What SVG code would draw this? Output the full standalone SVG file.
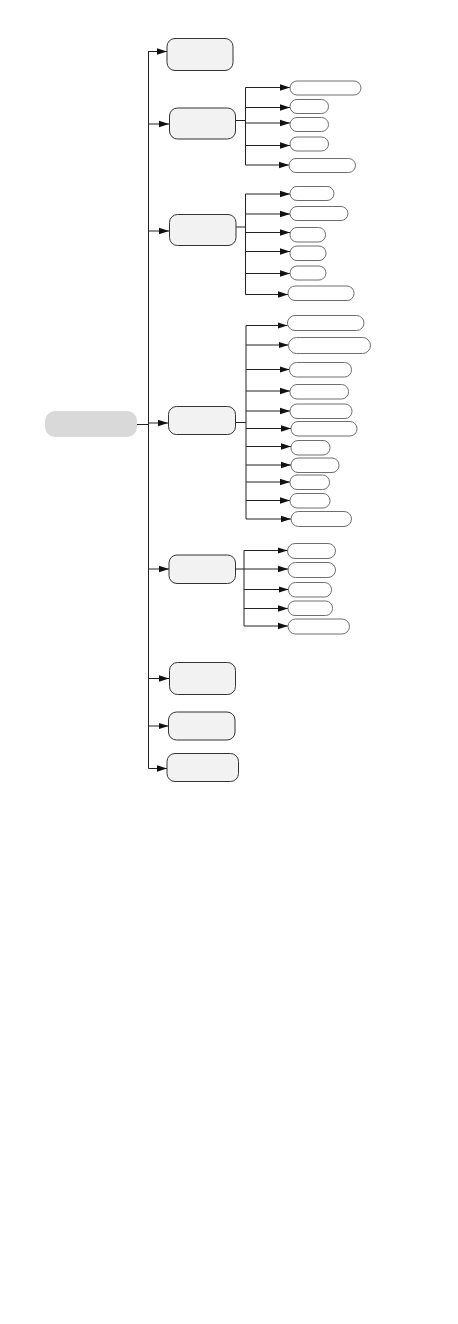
<svg xmlns="http://www.w3.org/2000/svg" width="458" height="1324" viewBox="0 0 458 1324">
<style>
.bg{fill:#ffffff}
.root{fill:#d9d9d9;stroke:none}
.main{fill:#f2f2f2;stroke:#333333;stroke-width:1}
.leaf{fill:#ffffff;stroke:#6e6e6e;stroke-width:1}
.ln{fill:none;stroke:#222222;stroke-width:1}
.ar{fill:none;stroke:#222222;stroke-width:1;marker-end:url(#ah)}
</style>
<defs>
<marker id="ah" markerUnits="userSpaceOnUse" markerWidth="10" markerHeight="8" refX="10" refY="4" orient="auto">
<path d="M0,0.8 L10,4 L0,7.2 Z" fill="#111111"/>
</marker>
</defs>
<rect class="bg" x="0" y="0" width="458" height="1324"/>
<g id="connectors">
<path class="ln" d="M137,424.5 H148.5 M148.5,51 V768.5"/>
<path class="ar" d="M148.5,51.5 H167"/>
<path class="ar" d="M148.5,124 H169"/>
<path class="ar" d="M148.5,231 H169"/>
<path class="ar" d="M148.5,423 H168"/>
<path class="ar" d="M148.5,569 H169"/>
<path class="ar" d="M148.5,678.5 H169"/>
<path class="ar" d="M148.5,726 H168.5"/>
<path class="ar" d="M148.5,768.5 H167"/>
<!-- group 2 -->
<path class="ln" d="M236,120.5 H245.5 M245.5,87.5 V165"/>
<path class="ar" d="M245.5,87.5 H290"/>
<path class="ar" d="M245.5,107.5 H290"/>
<path class="ar" d="M245.5,123 H290"/>
<path class="ar" d="M245.5,145.5 H290"/>
<path class="ar" d="M245.5,165 H289"/>
<!-- group 3 -->
<path class="ln" d="M236,227 H245.5 M245.5,194 V294.5"/>
<path class="ar" d="M245.5,194 H290"/>
<path class="ar" d="M245.5,214 H290"/>
<path class="ar" d="M245.5,232.5 H290"/>
<path class="ar" d="M245.5,251.5 H290"/>
<path class="ar" d="M245.5,273.5 H290"/>
<path class="ar" d="M245.5,294.5 H288"/>
<!-- group 4 -->
<path class="ln" d="M235.5,422.5 H246 M246,325.5 V519"/>
<path class="ar" d="M246,325.5 H287.5"/>
<path class="ar" d="M246,345 H288.5"/>
<path class="ar" d="M246,369.5 H289.5"/>
<path class="ar" d="M246,391 H290"/>
<path class="ar" d="M246,411 H290"/>
<path class="ar" d="M246,428.5 H291"/>
<path class="ar" d="M246,446.5 H291"/>
<path class="ar" d="M246,465 H291"/>
<path class="ar" d="M246,482 H290"/>
<path class="ar" d="M246,500.5 H290"/>
<path class="ar" d="M246,519 H291"/>
<!-- group 5 -->
<path class="ln" d="M235.5,569 H244 M244,550.5 V626"/>
<path class="ar" d="M244,550.5 H287.5"/>
<path class="ar" d="M244,569 H288"/>
<path class="ar" d="M244,589.5 H288.5"/>
<path class="ar" d="M244,608.5 H288"/>
<path class="ar" d="M244,626 H288"/>
</g>
<g id="root"><rect class="root" x="45" y="411" width="92" height="26" rx="10"/></g>
<g id="n1"><rect class="main" x="167" y="38.5" width="66" height="32" rx="8"/></g>
<g id="n2"><rect class="main" x="169.5" y="108" width="66" height="31" rx="8"/></g>
<g id="n2a"><rect class="leaf" x="290" y="81" width="71" height="14" rx="7"/></g>
<g id="n2b"><rect class="leaf" x="290" y="99.5" width="38.5" height="14" rx="7"/></g>
<g id="n2c"><rect class="leaf" x="290" y="117.5" width="38.5" height="14" rx="7"/></g>
<g id="n2d"><rect class="leaf" x="290" y="137" width="38.5" height="14" rx="7"/></g>
<g id="n2e"><rect class="leaf" x="289" y="158.5" width="66.5" height="14" rx="7"/></g>
<g id="n3"><rect class="main" x="169.5" y="214.5" width="66.5" height="31" rx="8"/></g>
<g id="n3a"><rect class="leaf" x="290" y="186.5" width="44" height="14" rx="7"/></g>
<g id="n3b"><rect class="leaf" x="290" y="206.5" width="58" height="14" rx="7"/></g>
<g id="n3c"><rect class="leaf" x="290" y="227.5" width="35.5" height="14.5" rx="7"/></g>
<g id="n3d"><rect class="leaf" x="290" y="246" width="36" height="14.5" rx="7"/></g>
<g id="n3e"><rect class="leaf" x="290" y="266" width="36" height="14" rx="7"/></g>
<g id="n3f"><rect class="leaf" x="288" y="286" width="66" height="14.5" rx="7"/></g>
<g id="n4"><rect class="main" x="168.5" y="406.5" width="67" height="28" rx="8"/></g>
<g id="n4a"><rect class="leaf" x="287.5" y="315.5" width="76.5" height="15" rx="7.5"/></g>
<g id="n4b"><rect class="leaf" x="288.5" y="337.5" width="82" height="16" rx="8"/></g>
<g id="n4c"><rect class="leaf" x="289.5" y="362.5" width="62" height="14.5" rx="7"/></g>
<g id="n4d"><rect class="leaf" x="290" y="384.5" width="58.5" height="14.5" rx="7"/></g>
<g id="n4e"><rect class="leaf" x="290" y="404" width="62" height="14.5" rx="7"/></g>
<g id="n4f"><rect class="leaf" x="291" y="421.5" width="66" height="14.5" rx="7"/></g>
<g id="n4g"><rect class="leaf" x="291" y="440.5" width="39" height="14.5" rx="7"/></g>
<g id="n4h"><rect class="leaf" x="291" y="458" width="48" height="14.5" rx="7"/></g>
<g id="n4i"><rect class="leaf" x="290" y="475" width="39.5" height="14.5" rx="7"/></g>
<g id="n4j"><rect class="leaf" x="290" y="493.5" width="40" height="14.5" rx="7"/></g>
<g id="n4k"><rect class="leaf" x="291" y="511.5" width="60.5" height="15" rx="7.5"/></g>
<g id="n5"><rect class="main" x="169" y="555" width="66.5" height="28.5" rx="8"/></g>
<g id="n5a"><rect class="leaf" x="287.5" y="543.5" width="48" height="15" rx="7.5"/></g>
<g id="n5b"><rect class="leaf" x="288" y="562.5" width="47.5" height="15" rx="7.5"/></g>
<g id="n5c"><rect class="leaf" x="288.5" y="582.5" width="43" height="14.5" rx="7"/></g>
<g id="n5d"><rect class="leaf" x="288" y="601" width="44.5" height="14.5" rx="7"/></g>
<g id="n5e"><rect class="leaf" x="288" y="619" width="61.5" height="15" rx="7.5"/></g>
<g id="n6"><rect class="main" x="169.5" y="662.5" width="66" height="32" rx="8"/></g>
<g id="n7"><rect class="main" x="168.5" y="712" width="66.5" height="28" rx="8"/></g>
<g id="n8"><rect class="main" x="167" y="753.5" width="71.5" height="28" rx="8"/></g>
</svg>
